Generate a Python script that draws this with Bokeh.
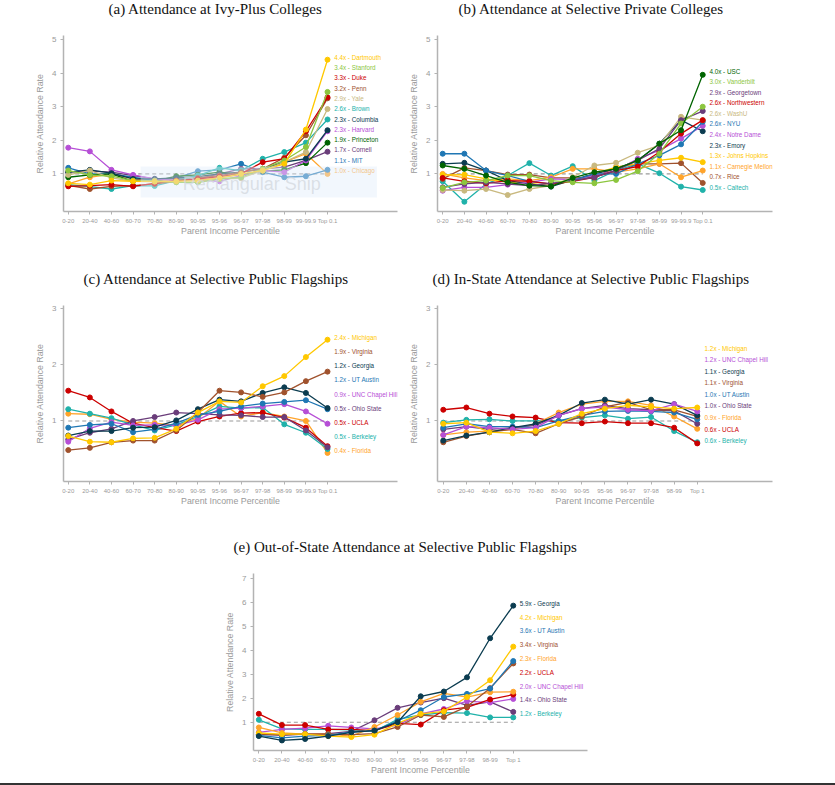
import numpy as np
from bokeh.plotting import figure
from bokeh.models import FixedTicker, Range1d, BoxAnnotation, Label, Div, Title
from bokeh.layouts import column, row
from bokeh.embed import file_html
from bokeh.resources import INLINE
from bokeh.core.properties import value

# ---------------- categories ----------------
CATS_TOP01 = ["0-20", "20-40", "40-60", "60-70", "70-80", "80-90", "90-95",
              "95-96", "96-97", "97-98", "98-99", "99-99.9", "Top 0.1"]
CATS_TOP1 = ["0-20", "20-40", "40-60", "60-70", "70-80", "80-90", "90-95",
             "95-96", "96-97", "97-98", "98-99", "Top 1"]

# ---------------- (a) Ivy-Plus ----------------
IVY_SCHOOLS = ["Dartmouth", "Stanford", "Duke", "Penn", "Yale", "Brown",
               "Columbia", "Harvard", "Princeton", "Cornell", "MIT", "Chicago"]
IVY_LABELS = ["4.4x - Dartmouth", "3.4x - Stanford", "3.3x - Duke", "3.2x - Penn",
              "2.9x - Yale", "2.6x - Brown", "2.3x - Columbia", "2.3x - Harvard",
              "1.9x - Princeton", "1.7x - Cornell", "1.1x - MIT", "1.0x - Chicago"]
ivy_dartmouth = [0.72, 0.68, 0.80, 0.78, 0.77, 0.78, 0.80, 0.88, 1.00, 1.10, 1.30, 2.32, 4.40]
ivy_stanford = [1.10, 0.97, 0.93, 0.80, 0.78, 0.75, 0.75, 0.85, 0.90, 1.15, 1.40, 1.80, 3.44]
ivy_duke = [0.63, 0.65, 0.68, 0.63, 0.72, 0.80, 0.85, 0.92, 1.00, 1.35, 1.45, 2.27, 3.28]
ivy_penn = [0.66, 0.55, 0.63, 0.65, 0.70, 0.78, 0.88, 0.95, 1.05, 1.15, 1.48, 2.15, 3.25]
ivy_yale = [0.97, 1.10, 0.88, 0.78, 0.80, 0.75, 0.75, 0.85, 0.87, 1.10, 1.35, 1.65, 2.93]
ivy_brown = [0.68, 0.62, 0.55, 0.65, 0.64, 0.80, 0.95, 1.18, 1.10, 1.45, 1.65, 1.93, 2.62]
ivy_columbia = [1.05, 1.12, 1.02, 0.85, 0.85, 0.88, 0.92, 1.00, 1.05, 1.15, 1.35, 1.45, 2.30]
ivy_harvard = [1.78, 1.67, 1.12, 0.97, 0.85, 0.80, 0.82, 0.78, 0.95, 1.10, 1.05, 1.40, 2.27]
ivy_princeton = [0.90, 0.97, 1.00, 0.78, 0.78, 0.93, 0.97, 1.05, 0.98, 1.08, 1.12, 1.32, 1.93]
ivy_cornell = [1.05, 1.08, 1.05, 0.95, 0.85, 0.85, 0.85, 1.00, 1.15, 1.15, 1.20, 1.40, 1.66]
ivy_mit = [1.18, 1.00, 1.00, 0.90, 0.80, 0.88, 1.08, 1.12, 1.30, 1.05, 0.90, 0.93, 1.12]
ivy_chicago = [0.70, 0.90, 1.00, 0.85, 0.80, 0.82, 0.82, 0.88, 0.98, 1.10, 1.35, 1.60, 1.00]
IVY_VALUES = [ivy_dartmouth, ivy_stanford, ivy_duke, ivy_penn, ivy_yale, ivy_brown,
              ivy_columbia, ivy_harvard, ivy_princeton, ivy_cornell, ivy_mit, ivy_chicago]

# ---------------- (b) Selective private ----------------
PRIV_SCHOOLS = ["USC", "Vanderbilt", "Georgetown", "Northwestern", "WashU", "NYU",
                "Notre Dame", "Emory", "Johns Hopkins", "Carnegie Mellon", "Rice", "Caltech"]
PRIV_LABELS = ["4.0x - USC", "3.0x - Vanderbilt", "2.9x - Georgetown", "2.6x - Northwestern",
               "2.6x - WashU", "2.6x - NYU", "2.4x - Notre Dame", "2.3x - Emory",
               "1.3x - Johns Hopkins", "1.1x - Carnegie Mellon", "0.7x - Rice", "0.5x - Caltech"]
priv_usc = [1.25, 1.15, 0.95, 0.75, 0.65, 0.63, 0.88, 1.05, 1.15, 1.40, 1.90, 2.30, 3.95]
priv_vanderbilt = [0.58, 0.75, 0.80, 0.95, 0.95, 0.80, 0.75, 0.72, 0.82, 1.08, 1.60, 2.50, 3.00]
priv_georgetown = [0.60, 0.70, 0.75, 0.70, 0.65, 0.72, 0.80, 0.90, 1.10, 1.40, 1.75, 2.60, 2.87]
priv_northwestern = [0.88, 0.78, 0.72, 0.80, 0.78, 0.70, 0.78, 0.90, 1.10, 1.22, 1.65, 2.20, 2.60]
priv_washu = [0.52, 0.50, 0.55, 0.37, 0.55, 0.65, 0.90, 1.25, 1.33, 1.63, 1.85, 2.70, 2.60]
priv_nyu = [1.60, 1.60, 1.10, 0.95, 0.78, 0.70, 0.80, 1.00, 1.00, 1.30, 1.55, 1.88, 2.55]
priv_notredame = [0.50, 0.60, 0.60, 0.68, 0.75, 0.85, 0.83, 0.95, 1.10, 1.45, 1.70, 2.05, 2.43]
priv_emory = [1.30, 1.33, 1.10, 0.80, 0.70, 0.62, 0.82, 1.00, 1.15, 1.40, 1.90, 2.60, 2.27]
priv_jhu = [0.97, 0.98, 0.85, 0.75, 0.72, 0.65, 0.80, 1.00, 1.20, 1.30, 1.40, 1.48, 1.35]
priv_cmu = [1.00, 0.88, 0.80, 0.85, 0.80, 0.90, 1.15, 1.15, 1.05, 1.15, 1.30, 0.90, 1.10]
priv_rice = [0.85, 1.18, 1.10, 0.98, 0.98, 0.88, 0.88, 0.88, 1.20, 1.30, 1.30, 1.32, 0.73]
priv_caltech = [0.78, 0.17, 0.70, 0.95, 1.32, 0.95, 1.23, 0.80, 1.10, 1.30, 1.02, 0.62, 0.52]
PRIV_VALUES = [priv_usc, priv_vanderbilt, priv_georgetown, priv_northwestern, priv_washu,
               priv_nyu, priv_notredame, priv_emory, priv_jhu, priv_cmu, priv_rice, priv_caltech]

# ---------------- (c) Public flagships ----------------
PUB_SCHOOLS = ["Michigan", "Virginia", "Georgia", "UT Austin", "UNC Chapel Hill",
               "Ohio State", "UCLA", "Berkeley", "Florida"]
PUB_LABELS = ["2.4x - Michigan", "1.9x - Virginia", "1.2x - Georgia", "1.2x - UT Austin",
              "0.9x - UNC Chapel Hill", "0.5x - Ohio State", "0.5x - UCLA",
              "0.5x - Berkeley", "0.4x - Florida"]
pub_michigan = [0.73, 0.63, 0.62, 0.69, 0.70, 0.86, 1.15, 1.35, 1.33, 1.62, 1.80, 2.14, 2.45]
pub_virginia = [0.48, 0.52, 0.62, 0.65, 0.65, 0.83, 1.15, 1.54, 1.51, 1.43, 1.51, 1.71, 1.88]
pub_georgia = [0.74, 0.82, 0.82, 0.88, 0.89, 1.01, 1.21, 1.38, 1.35, 1.50, 1.60, 1.50, 1.23]
pub_utaustin = [0.88, 0.93, 0.95, 0.80, 0.85, 0.96, 1.11, 1.17, 1.26, 1.31, 1.34, 1.37, 1.21]
pub_unc = [0.63, 0.87, 0.98, 0.92, 0.93, 0.92, 1.02, 1.21, 1.23, 1.26, 1.30, 1.17, 0.95]
pub_ohiostate = [0.67, 0.79, 0.86, 1.00, 1.07, 1.15, 1.13, 1.11, 1.10, 1.07, 1.07, 0.83, 0.53]
pub_ucla = [1.54, 1.42, 1.17, 0.96, 0.88, 0.82, 0.99, 1.08, 1.14, 1.15, 1.06, 0.88, 0.55]
pub_berkeley = [1.21, 1.13, 1.05, 0.93, 0.83, 0.93, 1.08, 1.26, 1.23, 1.24, 0.94, 0.79, 0.50]
pub_florida = [1.13, 1.12, 1.03, 0.98, 0.96, 0.92, 1.05, 1.35, 1.08, 1.15, 1.08, 1.00, 0.43]
PUB_VALUES = [pub_michigan, pub_virginia, pub_georgia, pub_utaustin, pub_unc,
              pub_ohiostate, pub_ucla, pub_berkeley, pub_florida]

# ---------------- (d) In-state ----------------
IN_SCHOOLS = ["Michigan", "UNC Chapel Hill", "Georgia", "Virginia", "UT Austin",
              "Ohio State", "Florida", "UCLA", "Berkeley"]
IN_LABELS = ["1.2x - Michigan", "1.2x - UNC Chapel Hill", "1.1x - Georgia", "1.1x - Virginia",
             "1.0x - UT Austin", "1.0x - Ohio State", "0.9x - Florida", "0.6x - UCLA",
             "0.6x - Berkeley"]
in_michigan = [0.95, 0.97, 0.80, 0.78, 0.82, 0.95, 1.13, 1.22, 1.28, 1.25, 1.22, 1.24]
in_unc = [0.75, 0.90, 0.88, 0.85, 0.88, 1.10, 1.22, 1.25, 1.20, 1.18, 1.30, 1.17]
in_georgia = [0.65, 0.74, 0.80, 0.88, 0.95, 1.10, 1.32, 1.38, 1.30, 1.38, 1.30, 1.10]
in_virginia = [0.62, 0.73, 0.80, 0.85, 0.78, 0.95, 1.08, 1.25, 1.33, 1.20, 1.20, 1.08]
in_utaustin = [0.88, 0.95, 0.90, 0.90, 0.88, 1.00, 1.10, 1.17, 1.18, 1.17, 1.15, 1.03]
in_ohiostate = [0.85, 0.90, 0.85, 0.88, 0.92, 1.10, 1.22, 1.28, 1.22, 1.20, 1.18, 0.95]
in_florida = [0.75, 0.80, 0.82, 0.85, 0.95, 1.15, 1.30, 1.35, 1.35, 1.28, 1.08, 0.86]
in_ucla = [1.20, 1.24, 1.13, 1.08, 1.06, 0.97, 0.96, 0.99, 0.96, 0.96, 0.88, 0.60]
in_berkeley = [0.97, 1.02, 1.03, 1.00, 1.00, 1.00, 1.06, 1.10, 1.04, 1.07, 0.82, 0.62]
IN_VALUES = [in_michigan, in_unc, in_georgia, in_virginia, in_utaustin,
             in_ohiostate, in_florida, in_ucla, in_berkeley]

# ---------------- (e) Out-of-state ----------------
OUT_SCHOOLS = ["Georgia", "Michigan", "UT Austin", "Virginia", "Florida", "UCLA",
               "UNC Chapel Hill", "Ohio State", "Berkeley"]
OUT_LABELS = ["5.9x - Georgia", "4.2x - Michigan", "3.6x - UT Austin", "3.4x - Virginia",
              "2.3x - Florida", "2.2x - UCLA", "2.0x - UNC Chapel Hill", "1.4x - Ohio State",
              "1.2x - Berkeley"]
out_georgia = [0.42, 0.24, 0.30, 0.42, 0.58, 0.65, 1.00, 2.08, 2.28, 2.87, 4.50, 5.86]
out_michigan = [0.55, 0.50, 0.50, 0.42, 0.38, 0.48, 0.95, 1.35, 1.45, 2.05, 2.75, 4.15]
out_utaustin = [0.45, 0.35, 0.42, 0.45, 0.60, 0.65, 1.05, 1.50, 2.05, 2.18, 2.40, 3.55]
out_virginia = [0.48, 0.48, 0.50, 0.50, 0.48, 0.52, 0.80, 1.30, 1.22, 1.65, 2.42, 3.45]
out_florida = [0.78, 0.55, 0.50, 0.50, 0.42, 0.80, 1.30, 1.85, 2.20, 2.05, 2.25, 2.27]
out_ucla = [1.35, 0.88, 0.88, 0.70, 0.70, 0.65, 0.95, 0.90, 1.50, 1.62, 1.95, 2.15]
out_unc = [0.58, 0.70, 0.75, 0.85, 0.78, 0.72, 0.88, 1.35, 1.55, 1.88, 1.82, 1.97]
out_ohiostate = [0.50, 0.45, 0.50, 0.52, 0.62, 1.08, 1.60, 1.82, 2.00, 1.70, 1.85, 1.43]
out_berkeley = [1.10, 0.72, 0.70, 0.70, 0.68, 0.62, 1.12, 1.30, 1.40, 1.38, 1.20, 1.20]
OUT_VALUES = [out_georgia, out_michigan, out_utaustin, out_virginia, out_florida,
              out_ucla, out_unc, out_ohiostate, out_berkeley]

# ---------------- styles ----------------
COLORS = {
    "Dartmouth": "#FFC800", "Stanford": "#8CC63E", "Duke": "#CC0000", "Penn": "#A0522D",
    "Yale": "#C9B97F", "Brown": "#20B2AA", "Columbia": "#0B3C50", "Harvard": "#B64FD6",
    "Princeton": "#006400", "Cornell": "#6A3D7A", "MIT": "#1F77B4", "Chicago": "#FFA42B",
    "USC": "#006400", "Vanderbilt": "#8CC63E", "Georgetown": "#6A3D7A",
    "Northwestern": "#CC0000", "WashU": "#C9B97F", "NYU": "#1F77B4",
    "Notre Dame": "#B64FD6", "Emory": "#0B3C50", "Johns Hopkins": "#FFC800",
    "Carnegie Mellon": "#FFA42B", "Rice": "#A0522D", "Caltech": "#20B2AA",
    "Michigan": "#FFC800", "Virginia": "#A0522D", "Georgia": "#0B3C50",
    "UT Austin": "#1F77B4", "UNC Chapel Hill": "#B64FD6", "Ohio State": "#6A3D7A",
    "UCLA": "#CC0000", "Berkeley": "#20B2AA", "Florida": "#FFA42B",
}
AXIS_GRAY = "#b3b3b3"
TEXT_GRAY = "#9a9a9a"
SANS = "Liberation Sans"
SERIF = "Liberation Serif"


def make_panel(title, title_offset, cats, schools, labels, values, xr, yr, yticks,
               label_x, label_top, label_bottom, width, height, borders):
    p = figure(width=width, height=height, output_backend="svg", toolbar_location=None,
               x_range=Range1d(*xr), y_range=Range1d(*yr),
               min_border_top=borders[0], min_border_right=borders[1],
               min_border_bottom=borders[2], min_border_left=borders[3])
    p.title.visible = False
    # blank spacer between frame and title, then the title itself
    p.add_layout(Title(text=" ", text_font_size="2px", standoff=18), "above")
    p.add_layout(Title(text=title, text_font=SERIF, text_font_size="15px",
                       text_font_style="normal", text_color="#111111",
                       align="left", offset=title_offset, standoff=-6), "above")
    p.background_fill_color = "white"
    p.border_fill_color = "white"
    p.outline_line_color = None
    p.xgrid.visible = False
    p.ygrid.visible = False

    n = len(cats)
    p.xaxis.ticker = FixedTicker(ticks=list(range(n)))
    p.xaxis.major_label_overrides = {i: c for i, c in enumerate(cats)}
    p.yaxis.ticker = FixedTicker(ticks=yticks)
    for ax in (p.xaxis, p.yaxis):
        ax.axis_line_color = AXIS_GRAY
        ax.axis_line_width = 1.5
        ax.major_tick_line_color = AXIS_GRAY
        ax.major_tick_line_width = 1.0
        ax.major_tick_out = 3
        ax.major_tick_in = 0
        ax.minor_tick_line_color = None
        ax.major_label_text_color = TEXT_GRAY
        ax.major_label_text_font = SANS
        ax.axis_label_text_color = TEXT_GRAY
        ax.axis_label_text_font = SANS
        ax.axis_label_text_font_size = "8.8px"
        ax.axis_label_text_font_style = "normal"
    p.xaxis.major_label_text_font_size = "6px"
    p.yaxis.major_label_text_font_size = "8px"
    p.xaxis.major_label_standoff = 3
    p.yaxis.major_label_standoff = 4
    p.xaxis.axis_label_standoff = -1
    p.yaxis.axis_label_standoff = 4
    p.xaxis.axis_label = "Parent Income Percentile"
    p.yaxis.axis_label = "Relative Attendance Rate"

    xs = list(range(n))
    p.line(x=[xs[0], xs[-1]], y=[1, 1], line_color="#9a9a9a", line_width=1.1,
           line_dash="4 3")
    for school, vals in reversed(list(zip(schools, values))):
        c = COLORS[school]
        p.line(x=xs, y=vals, line_color=c, line_width=1.3)
        p.scatter(x=xs, y=vals, size=5, fill_color=c, line_color=c)

    cols = [COLORS[s] for s in schools]
    ly = list(np.linspace(label_top, label_bottom, len(labels)))
    p.text(x=[label_x] * len(labels), y=ly, text=labels, text_color=cols,
           text_font=value(SANS), text_font_size="6.3px", text_baseline="middle",
           text_align="left")
    return p


pa = make_panel("(a) Attendance at Ivy-Plus Colleges", 45, CATS_TOP01, IVY_SCHOOLS,
                IVY_LABELS, IVY_VALUES, (-0.22, 15.24), (-0.12, 5.12), [1, 2, 3, 4, 5],
                12.31, 4.47, 1.10, 404, 262, (35, 7, 51, 63))
# screenshot-tool overlay visible in the reference
pa.add_layout(BoxAnnotation(left=3.35, right=14.29, bottom=0.30, top=1.22,
                            fill_color="#e3eefa", fill_alpha=0.45, line_alpha=0))
pa.add_layout(Label(x=5.3, y=0.70, text="Rectangular Snip", text_color="#d2d7dd",
                    text_alpha=0.75, text_font=SANS, text_font_size="18px",
                    text_baseline="middle"))

pb = make_panel("(b) Attendance at Selective Private Colleges", 21, CATS_TOP01, PRIV_SCHOOLS,
                PRIV_LABELS, PRIV_VALUES, (-0.24, 15.22), (-0.12, 5.12), [1, 2, 3, 4, 5],
                12.31, 4.06, 0.60, 431, 262, (35, 63, 51, 33))

pc = make_panel("(c) Attendance at Selective Public Flagships", 20, CATS_TOP01, PUB_SCHOOLS,
                PUB_LABELS, PUB_VALUES, (-0.22, 15.24), (-0.08, 3.06), [1, 2, 3],
                12.31, 2.49, 0.47, 404, 262, (43, 7, 43, 63))

pd_ = make_panel("(d) In-State Attendance at Selective Public Flagships", -5, CATS_TOP1,
                 IN_SCHOOLS, IN_LABELS, IN_VALUES, (-0.25, 14.26), (-0.08, 3.06), [1, 2, 3],
                 11.32, 2.30, 0.65, 431, 262, (43, 63, 43, 33))

pe = make_panel("(e) Out-of-State Attendance at Selective Public Flagships", -20, CATS_TOP1,
                OUT_SCHOOLS, OUT_LABELS, OUT_VALUES, (-0.23, 14.21), (-0.18, 7.2),
                [1, 2, 3, 4, 5, 6, 7], 11.28, 5.96, 1.35, 835, 259, (49, 248, 33, 253))

bottom_rule = Div(text="", width=835, height=2, margin=0,
                  styles={"background-color": "#333333"})

layout = column(row(pa, pb), row(pc, pd_), pe, bottom_rule)

open("out.html", "w").write(file_html(layout, INLINE))
